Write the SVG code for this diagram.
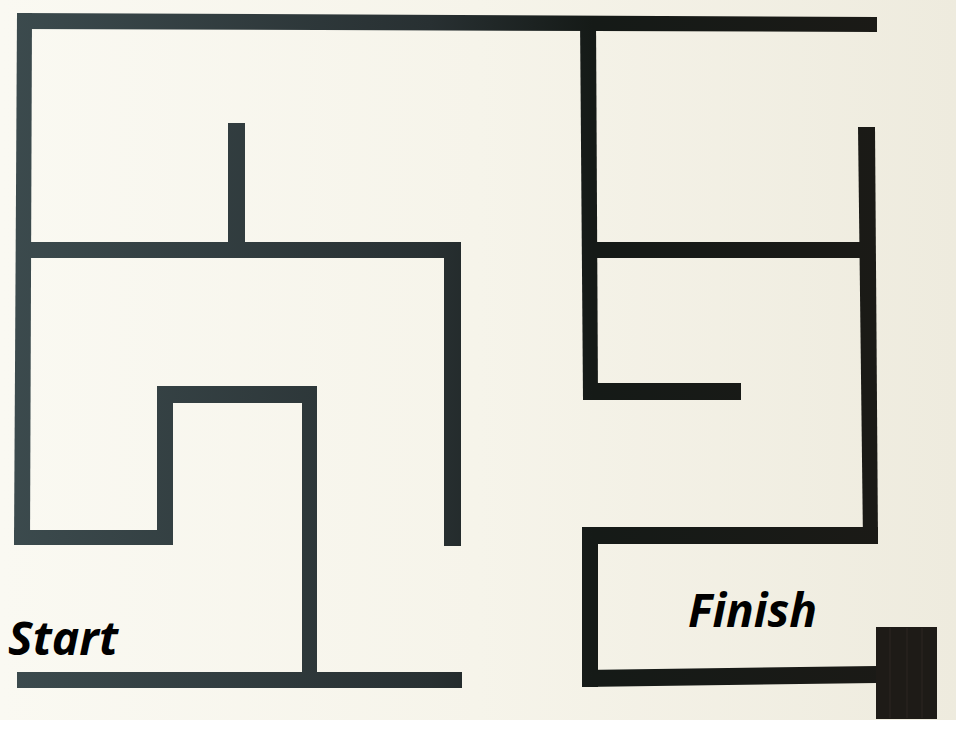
<svg xmlns="http://www.w3.org/2000/svg" width="956" height="730" viewBox="0 0 956 730">
<defs>
<linearGradient id="bg" x1="0" y1="0" x2="956" y2="0" gradientUnits="userSpaceOnUse">
<stop offset="0" stop-color="#faf9f2"/><stop offset="0.5" stop-color="#f6f4ea"/><stop offset="1" stop-color="#eeebde"/>
</linearGradient>
<linearGradient id="tape" x1="0" y1="0" x2="956" y2="0" gradientUnits="userSpaceOnUse">
<stop offset="0" stop-color="#3c4b4e"/><stop offset="0.45" stop-color="#283032"/><stop offset="0.62" stop-color="#151a17"/><stop offset="1" stop-color="#1c1a16"/>
</linearGradient>
<style>
.w{fill:url(#tape)}
.t{font-family:"Open Sans","Noto Sans","Liberation Sans",sans-serif;font-weight:bold;font-style:italic;font-size:46px;fill:#000}
</style>
</defs>
<rect x="0" y="0" width="956" height="730" fill="url(#bg)"/>
<rect x="0" y="720" width="956" height="10" fill="#ffffff"/>
<g id="walls">
<polygon class="w" points="17,13 877,17 877,32 17,29"/>
<polygon class="w" points="17,13 32,13 30,545 14,545"/>
<rect class="w" x="17" y="242" width="444" height="16"/>
<rect class="w" x="228" y="123" width="17" height="120"/>
<rect class="w" x="444" y="242" width="17" height="304"/>
<rect class="w" x="14" y="530" width="159" height="15"/>
<rect class="w" x="157" y="386" width="16" height="159"/>
<rect class="w" x="157" y="386" width="160" height="17"/>
<rect class="w" x="302" y="386" width="15" height="302"/>
<rect class="w" x="17" y="672" width="445" height="16"/>
<polygon class="w" points="580,17 596,17 598,400 583,400"/>
<rect class="w" x="586" y="242" width="289" height="16"/>
<polygon class="w" points="858,127 875,127 878,543 863,543"/>
<rect class="w" x="583" y="383" width="158" height="17"/>
<rect class="w" x="582" y="527" width="296" height="17"/>
<rect class="w" x="582" y="527" width="16" height="160"/>
<polygon class="w" points="582,670 877,666 877,683 582,687"/>
</g>
<g id="finish-square">
<rect x="876" y="627" width="61" height="92" fill="#1e1b17"/>
<g stroke="#2c2622" stroke-width="1">
<line x1="890" y1="628" x2="890" y2="718"/>
<line x1="907" y1="628" x2="907" y2="718"/>
<line x1="922" y1="628" x2="922" y2="718"/>
</g>
</g>
<g id="labels">
<text class="t" x="8" y="655" textLength="110" lengthAdjust="spacingAndGlyphs">Start</text>
<text class="t" x="688" y="627" textLength="129" lengthAdjust="spacingAndGlyphs">Finish</text>
</g>
</svg>
